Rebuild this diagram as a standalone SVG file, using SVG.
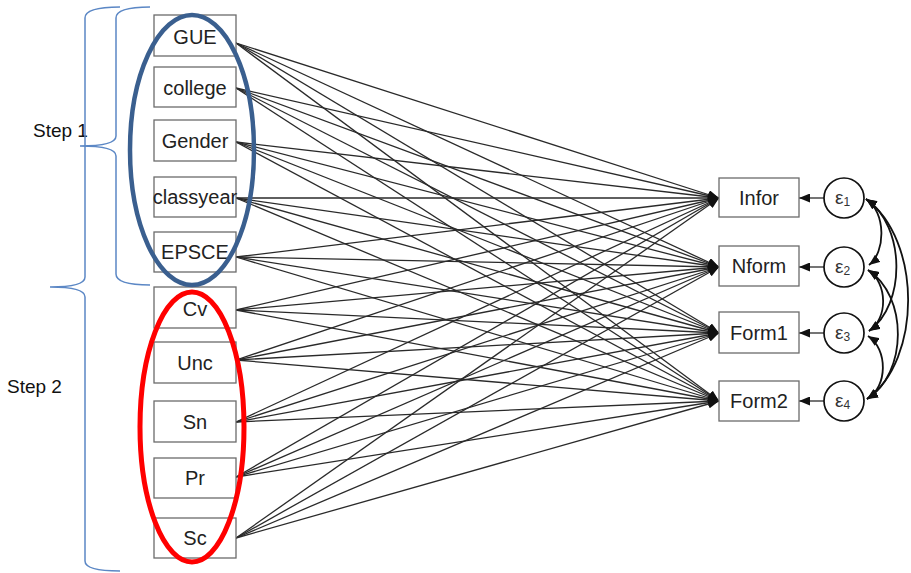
<svg xmlns="http://www.w3.org/2000/svg" width="911" height="573" viewBox="0 0 911 573">
<style>
.box{fill:#fff;stroke:#6b6b6b;stroke-width:1.3}
.lbl{font-family:"Liberation Sans",Arial,sans-serif;font-size:20px;fill:#222;text-anchor:middle}
.step{font-family:"Liberation Sans",Arial,sans-serif;font-size:19px;fill:#111}
.path{stroke:#2a2a2a;stroke-width:1.3;fill:none;marker-end:url(#ah)}
.err{fill:#fff;stroke:#111;stroke-width:1.7}
.eps{font-family:"Liberation Sans",Arial,sans-serif;font-size:19px;fill:#333}
.cov{stroke:#111;stroke-width:1.8;fill:none;marker-start:url(#ah2);marker-end:url(#ah2)}
.brace{stroke:#5b87c5;stroke-width:1.5;fill:none}
</style>
<defs>
<marker id="ah" markerUnits="userSpaceOnUse" markerWidth="11" markerHeight="9" refX="11" refY="4.5" orient="auto"><path d="M0,0 L11,4.5 L0,9 z" fill="#111"/></marker>
<marker id="ah2" markerUnits="userSpaceOnUse" markerWidth="11" markerHeight="9" refX="11" refY="4.5" orient="auto-start-reverse"><path d="M0,0 L11,4.5 L0,9 z" fill="#111"/></marker>
</defs>
<rect width="911" height="573" fill="#fff"/>

<g id="connectors">
<line class="path" x1="236" y1="43" x2="719" y2="198"/><line class="path" x1="236" y1="43" x2="719" y2="267"/><line class="path" x1="236" y1="43" x2="719" y2="333"/><line class="path" x1="236" y1="43" x2="719" y2="401"/>
<line class="path" x1="236" y1="88" x2="719" y2="198"/><line class="path" x1="236" y1="88" x2="719" y2="267"/><line class="path" x1="236" y1="88" x2="719" y2="333"/><line class="path" x1="236" y1="88" x2="719" y2="401"/>
<line class="path" x1="236" y1="142" x2="719" y2="198"/><line class="path" x1="236" y1="142" x2="719" y2="267"/><line class="path" x1="236" y1="142" x2="719" y2="333"/><line class="path" x1="236" y1="142" x2="719" y2="401"/>
<line class="path" x1="236" y1="198" x2="719" y2="198"/><line class="path" x1="236" y1="198" x2="719" y2="267"/><line class="path" x1="236" y1="198" x2="719" y2="333"/><line class="path" x1="236" y1="198" x2="719" y2="401"/>
<line class="path" x1="236" y1="257" x2="719" y2="198"/><line class="path" x1="236" y1="257" x2="719" y2="267"/><line class="path" x1="236" y1="257" x2="719" y2="333"/><line class="path" x1="236" y1="257" x2="719" y2="401"/>
<line class="path" x1="236" y1="310" x2="719" y2="198"/><line class="path" x1="236" y1="310" x2="719" y2="267"/><line class="path" x1="236" y1="310" x2="719" y2="333"/><line class="path" x1="236" y1="310" x2="719" y2="401"/>
<line class="path" x1="236" y1="360" x2="719" y2="198"/><line class="path" x1="236" y1="360" x2="719" y2="267"/><line class="path" x1="236" y1="360" x2="719" y2="333"/><line class="path" x1="236" y1="360" x2="719" y2="401"/>
<line class="path" x1="236" y1="422" x2="719" y2="198"/><line class="path" x1="236" y1="422" x2="719" y2="267"/><line class="path" x1="236" y1="422" x2="719" y2="333"/><line class="path" x1="236" y1="422" x2="719" y2="401"/>
<line class="path" x1="236" y1="477" x2="719" y2="198"/><line class="path" x1="236" y1="477" x2="719" y2="267"/><line class="path" x1="236" y1="477" x2="719" y2="333"/><line class="path" x1="236" y1="477" x2="719" y2="401"/>
<line class="path" x1="236" y1="538" x2="719" y2="198"/><line class="path" x1="236" y1="538" x2="719" y2="267"/><line class="path" x1="236" y1="538" x2="719" y2="333"/><line class="path" x1="236" y1="538" x2="719" y2="401"/>
<line class="path" x1="824" y1="198" x2="799" y2="198"/>
<line class="path" x1="824" y1="267" x2="799" y2="267"/>
<line class="path" x1="824" y1="333" x2="799" y2="333"/>
<line class="path" x1="824" y1="401" x2="799" y2="401"/>
<path class="cov" d="M866,199 C886,212 886,252 869,265"/>
<path class="cov" d="M868,270 C888,283 888,319 869,331"/>
<path class="cov" d="M868,336 C888,349 888,387 867,399"/>
<path class="cov" d="M866,199 C906,226 906,305 869,331"/>
<path class="cov" d="M868,270 C908,296 908,373 867,399"/>
<path class="cov" d="M866,199 C922,240 922,360 867,399"/>
</g>

<g id="GUE"><rect class="box" x="154" y="15" width="82" height="41"/><text class="lbl" x="195" y="44">GUE</text></g>
<g id="college"><rect class="box" x="154" y="67" width="82" height="40"/><text class="lbl" x="195" y="95">college</text></g>
<g id="Gender"><rect class="box" x="154" y="120" width="82" height="41"/><text class="lbl" x="195" y="148">Gender</text></g>
<g id="classyear"><rect class="box" x="154" y="177" width="82" height="40"/><text class="lbl" x="195" y="204">classyear</text></g>
<g id="EPSCE"><rect class="box" x="154" y="232" width="82" height="40"/><text class="lbl" x="195" y="259">EPSCE</text></g>
<g id="Cv"><rect class="box" x="154" y="287" width="82" height="41"/><text class="lbl" x="195" y="316">Cv</text></g>
<g id="Unc"><rect class="box" x="154" y="342" width="82" height="41"/><text class="lbl" x="195" y="370">Unc</text></g>
<g id="Sn"><rect class="box" x="154" y="401" width="82" height="41"/><text class="lbl" x="195" y="429">Sn</text></g>
<g id="Pr"><rect class="box" x="154" y="458" width="82" height="40"/><text class="lbl" x="195" y="485">Pr</text></g>
<g id="Sc"><rect class="box" x="154" y="518" width="82" height="40"/><text class="lbl" x="195" y="545">Sc</text></g>

<g id="Infor"><rect class="box" x="719" y="178" width="80" height="39"/><text class="lbl" x="759" y="205">Infor</text></g>
<g id="Nform"><rect class="box" x="719" y="246" width="80" height="40"/><text class="lbl" x="759" y="273">Nform</text></g>
<g id="Form1"><rect class="box" x="719" y="312" width="80" height="41"/><text class="lbl" x="759" y="340">Form1</text></g>
<g id="Form2"><rect class="box" x="719" y="381" width="80" height="40"/><text class="lbl" x="759" y="408">Form2</text></g>

<g id="e1"><circle class="err" cx="844" cy="198" r="20"/><text class="eps" x="835" y="204">ε<tspan font-size="12" dy="2">1</tspan></text></g>
<g id="e2"><circle class="err" cx="844" cy="267" r="20"/><text class="eps" x="835" y="273">ε<tspan font-size="12" dy="2">2</tspan></text></g>
<g id="e3"><circle class="err" cx="844" cy="333" r="20"/><text class="eps" x="835" y="339">ε<tspan font-size="12" dy="2">3</tspan></text></g>
<g id="e4"><circle class="err" cx="844" cy="401" r="20"/><text class="eps" x="835" y="407">ε<tspan font-size="12" dy="2">4</tspan></text></g>

<g id="step1-group">
<ellipse cx="192" cy="150" rx="62" ry="135" fill="none" stroke="#3a5f8f" stroke-width="4.5"/>
<path class="brace" d="M150,7 Q116,7 116,18 L116,136 Q116,146 80,146 Q116,146 116,156 L116,274 Q116,285 150,285"/>
<text class="step" x="33" y="137">Step 1</text>
</g>
<g id="step2-group">
<ellipse cx="192" cy="427" rx="52" ry="135" fill="none" stroke="#ff0000" stroke-width="5"/>
<path class="brace" d="M120,7 Q85,7 85,18 L85,277 Q85,287 50,287 Q85,287 85,297 L85,561 Q85,571 120,571"/>
<text class="step" x="7" y="393">Step 2</text>
</g>
</svg>
